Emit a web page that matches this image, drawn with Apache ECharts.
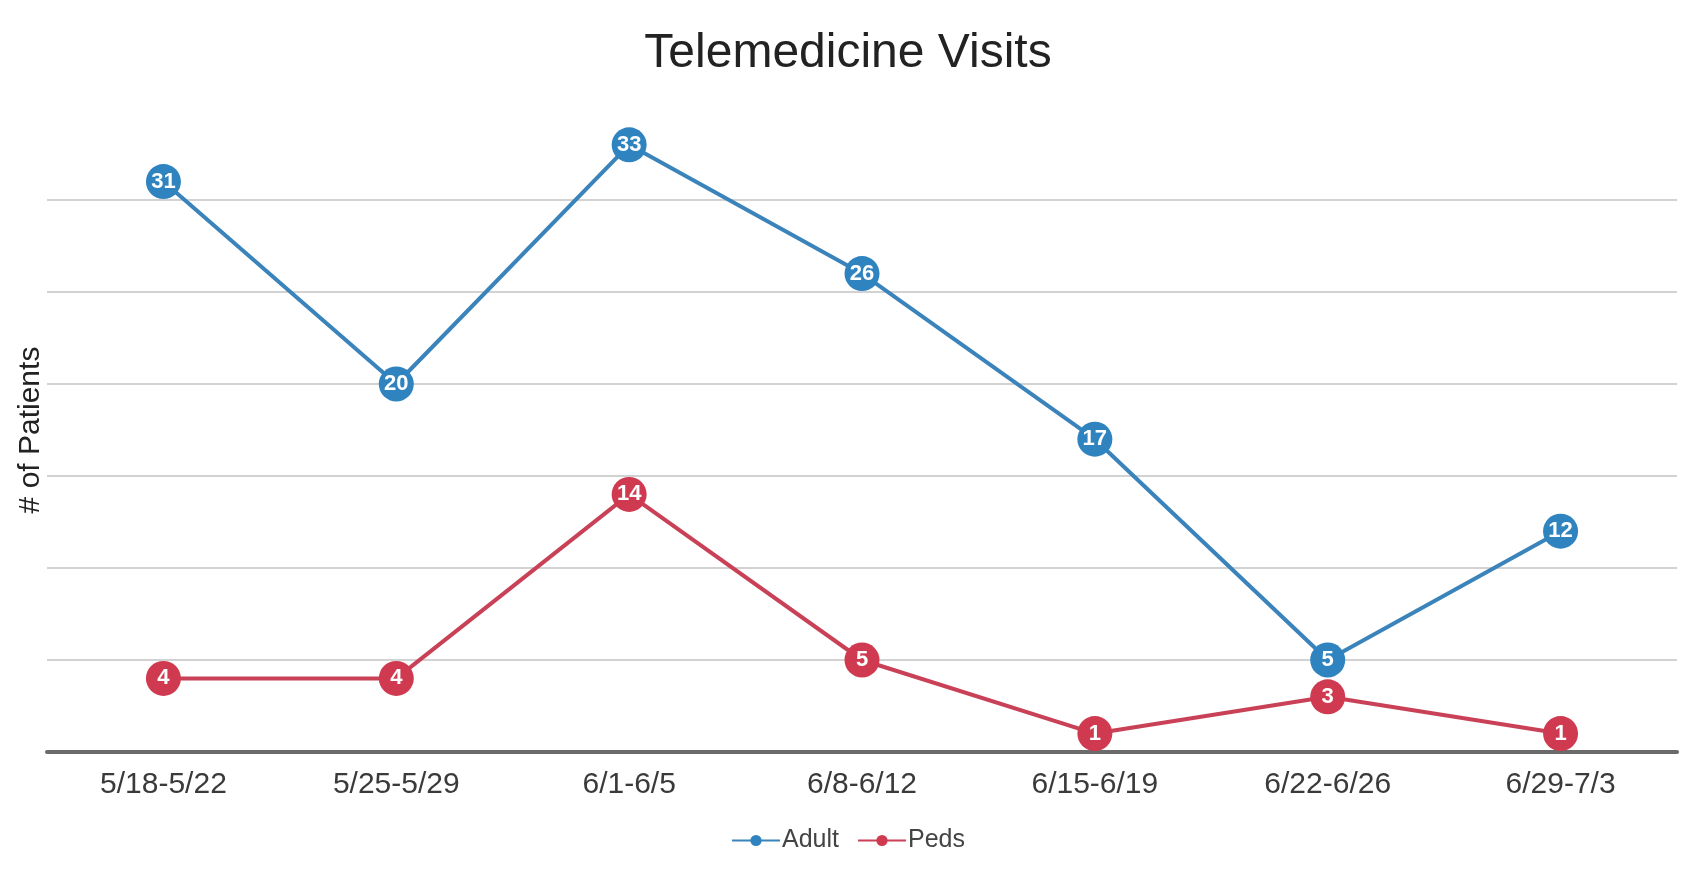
<!DOCTYPE html>
<html><head><meta charset="utf-8">
<script src="https://cdn.jsdelivr.net/npm/echarts@6/dist/echarts.min.js"></script>
<style>html,body{margin:0;padding:0;background:#fff}#c{width:1696px;height:870px}</style>
</head><body><div id="c"></div>
<script>
const categories = ['5/18-5/22','5/25-5/29','6/1-6/5','6/8-6/12','6/15-6/19','6/22-6/26','6/29-7/3'];
const adult = [31, 20, 33, 26, 17, 5, 12];
const peds = [4, 4, 14, 5, 1, 3, 1];
const chart = echarts.init(document.getElementById('c'));
const lbl = {show:true, position:'inside', color:'#fff', fontSize:22, fontWeight:'bold', fontFamily:'Liberation Sans'};
const grid = '#d2d2d2';
chart.setOption({
  backgroundColor:'#fff',
  title:{text:'Telemedicine Visits', left:843, top:25, textAlign:'center',
    textStyle:{fontFamily:'Liberation Sans', fontSize:48, fontWeight:'normal', color:'#222'}},
  legend:{top:823, left:'center', itemWidth:48, itemHeight:14, itemGap:18,
    textStyle:{fontFamily:'Liberation Sans', fontSize:25, color:'#444', padding:[0,0,0,-3]},
    data:['Adult','Peds']},
  grid:{left:47, right:19, top:108, bottom:118},
  xAxis:{type:'category', data:categories, boundaryGap:true,
    axisLine:{lineStyle:{color:'#6a6a6a', width:4}}, axisTick:{show:false},
    axisLabel:{fontFamily:'Liberation Sans', fontSize:30, color:'#3a3a3a', margin:18}},
  yAxis:{type:'value', min:0, max:35, interval:5, name:'# of Patients', nameLocation:'middle', nameGap:1,
    nameTextStyle:{fontFamily:'Liberation Sans', fontSize:30, color:'#222'},
    axisLabel:{show:false}, axisLine:{show:false}, axisTick:{show:false},
    splitLine:{lineStyle:{color:[grid,grid,grid,grid,grid,grid,grid,'rgba(0,0,0,0)'], width:2}}},
  series:[
    {name:'Adult', type:'line', data:adult, symbol:'circle', symbolSize:35,
      itemStyle:{color:'#2f84c0'}, lineStyle:{width:4, color:'#3a83bb'}, label:lbl},
    {name:'Peds', type:'line', data:peds, symbol:'circle', symbolSize:35,
      itemStyle:{color:'#d03a50'}, lineStyle:{width:4, color:'#c94157'}, label:lbl}
  ]
});
</script></body></html>
